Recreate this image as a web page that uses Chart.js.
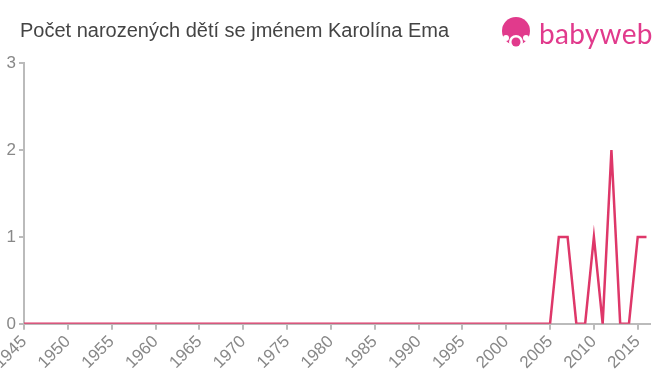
<!DOCTYPE html>
<html>
<head>
<meta charset="utf-8">
<script src="https://cdn.jsdelivr.net/npm/chart.js@4.4.0/dist/chart.umd.min.js"></script>
<style>
  html, body { margin: 0; padding: 0; background: #fff; }
  #wrap { position: relative; width: 660px; height: 375px; overflow: hidden; }
  #title { position: absolute; left: 20px; top: 19px; font: 20px "Liberation Sans", Arial, sans-serif; color: #444; white-space: nowrap; }
  #logo { position: absolute; left: 500px; top: 14px; height: 38px; display: flex; align-items: center; }
  #logo span { font: 28px "Lato", "Noto Sans", sans-serif; color: #e13a8c; margin-left: 7px; letter-spacing: 0.3px; }
  #chart { position: absolute; left: 0; top: 0; }
</style>
</head>
<body>
<div id="wrap">
  <canvas id="chart" width="660" height="375"></canvas>
  <div id="title">Počet narozených dětí se jménem Karolína Ema</div>
  <div id="logo">
    <svg width="32" height="34" viewBox="0 0 32 34">
      <circle cx="16" cy="15" r="14" fill="#e13a8c"/>
      <circle cx="16" cy="26" r="7" fill="#fff"/>
      <circle cx="16" cy="26" r="4.5" fill="#e13a8c"/>
      <circle cx="6" cy="22" r="3" fill="#fff"/>
      <circle cx="26" cy="22" r="3" fill="#fff"/>
    </svg>
    <span>babyweb</span>
  </div>
</div>
<script>
"use strict";

const years = [
    1945, 1946, 1947, 1948, 1949,
    1950, 1951, 1952, 1953, 1954,
    1955, 1956, 1957, 1958, 1959,
    1960, 1961, 1962, 1963, 1964,
    1965, 1966, 1967, 1968, 1969,
    1970, 1971, 1972, 1973, 1974,
    1975, 1976, 1977, 1978, 1979,
    1980, 1981, 1982, 1983, 1984,
    1985, 1986, 1987, 1988, 1989,
    1990, 1991, 1992, 1993, 1994,
    1995, 1996, 1997, 1998, 1999,
    2000, 2001, 2002, 2003, 2004,
    2005, 2006, 2007, 2008, 2009,
    2010, 2011, 2012, 2013, 2014,
    2015, 2016
];

const births = [
    0, 0, 0, 0, 0,
    0, 0, 0, 0, 0,
    0, 0, 0, 0, 0,
    0, 0, 0, 0, 0,
    0, 0, 0, 0, 0,
    0, 0, 0, 0, 0,
    0, 0, 0, 0, 0,
    0, 0, 0, 0, 0,
    0, 0, 0, 0, 0,
    0, 0, 0, 0, 0,
    0, 0, 0, 0, 0,
    0, 0, 0, 0, 0,
    0, 1, 1, 0, 0,
    1, 0, 2, 0, 0,
    1, 1
];

const yTicks = [0, 1, 2, 3];

const ctx = document.getElementById('chart').getContext('2d');

new Chart(ctx, {
    type: 'line',
    data: {
        datasets: [{
            data: years.map((y, i) => ({ x: y, y: births[i] })),
            borderColor: "rgb(222, 55, 105)",
            borderWidth: 2.5,
            pointRadius: 0,
            tension: 0,
            fill: false
        }]
    },
    options: {
        responsive: false,
        animation: false,
        layout: {
            padding: { left: 0, right: 10, top: 63, bottom: 0 }
        },
        plugins: {
            legend: { display: false },
            tooltip: { enabled: false }
        },
        scales: {
            x: {
                type: 'linear',
                min: 1945,
                max: 2016.4,
                afterBuildTicks: scale => {
                    scale.ticks = years.filter(y => y % 5 === 0).map(v => ({ value: v }));
                },
                afterFit: scale => {
                    scale.paddingLeft = 0;
                    scale.paddingRight = 0;
                },
                ticks: {
                    minRotation: 45,
                    maxRotation: 45,
                    autoSkip: false,
                    color: "#888",
                    padding: 2,
                    font: { size: 17, family: "'Liberation Sans', Arial, sans-serif" },
                    callback: v => String(v)
                },
                grid: {
                    drawOnChartArea: false,
                    tickLength: 6,
                    color: "#bbb",
                    lineWidth: 2
                },
                border: { color: "#bbb", width: 2 }
            },
            y: {
                min: 0,
                max: 3,
                afterBuildTicks: scale => {
                    scale.ticks = yTicks.map(v => ({ value: v }));
                },
                afterFit: scale => {
                    scale.width = 24;
                },
                ticks: {
                    color: "#888",
                    padding: 3,
                    font: { size: 17, family: "'Liberation Sans', Arial, sans-serif" }
                },
                grid: {
                    drawOnChartArea: false,
                    tickLength: 5,
                    color: "#bbb",
                    lineWidth: 2
                },
                border: { color: "#bbb", width: 2 }
            }
        }
    }
});
</script>
</body>
</html>
